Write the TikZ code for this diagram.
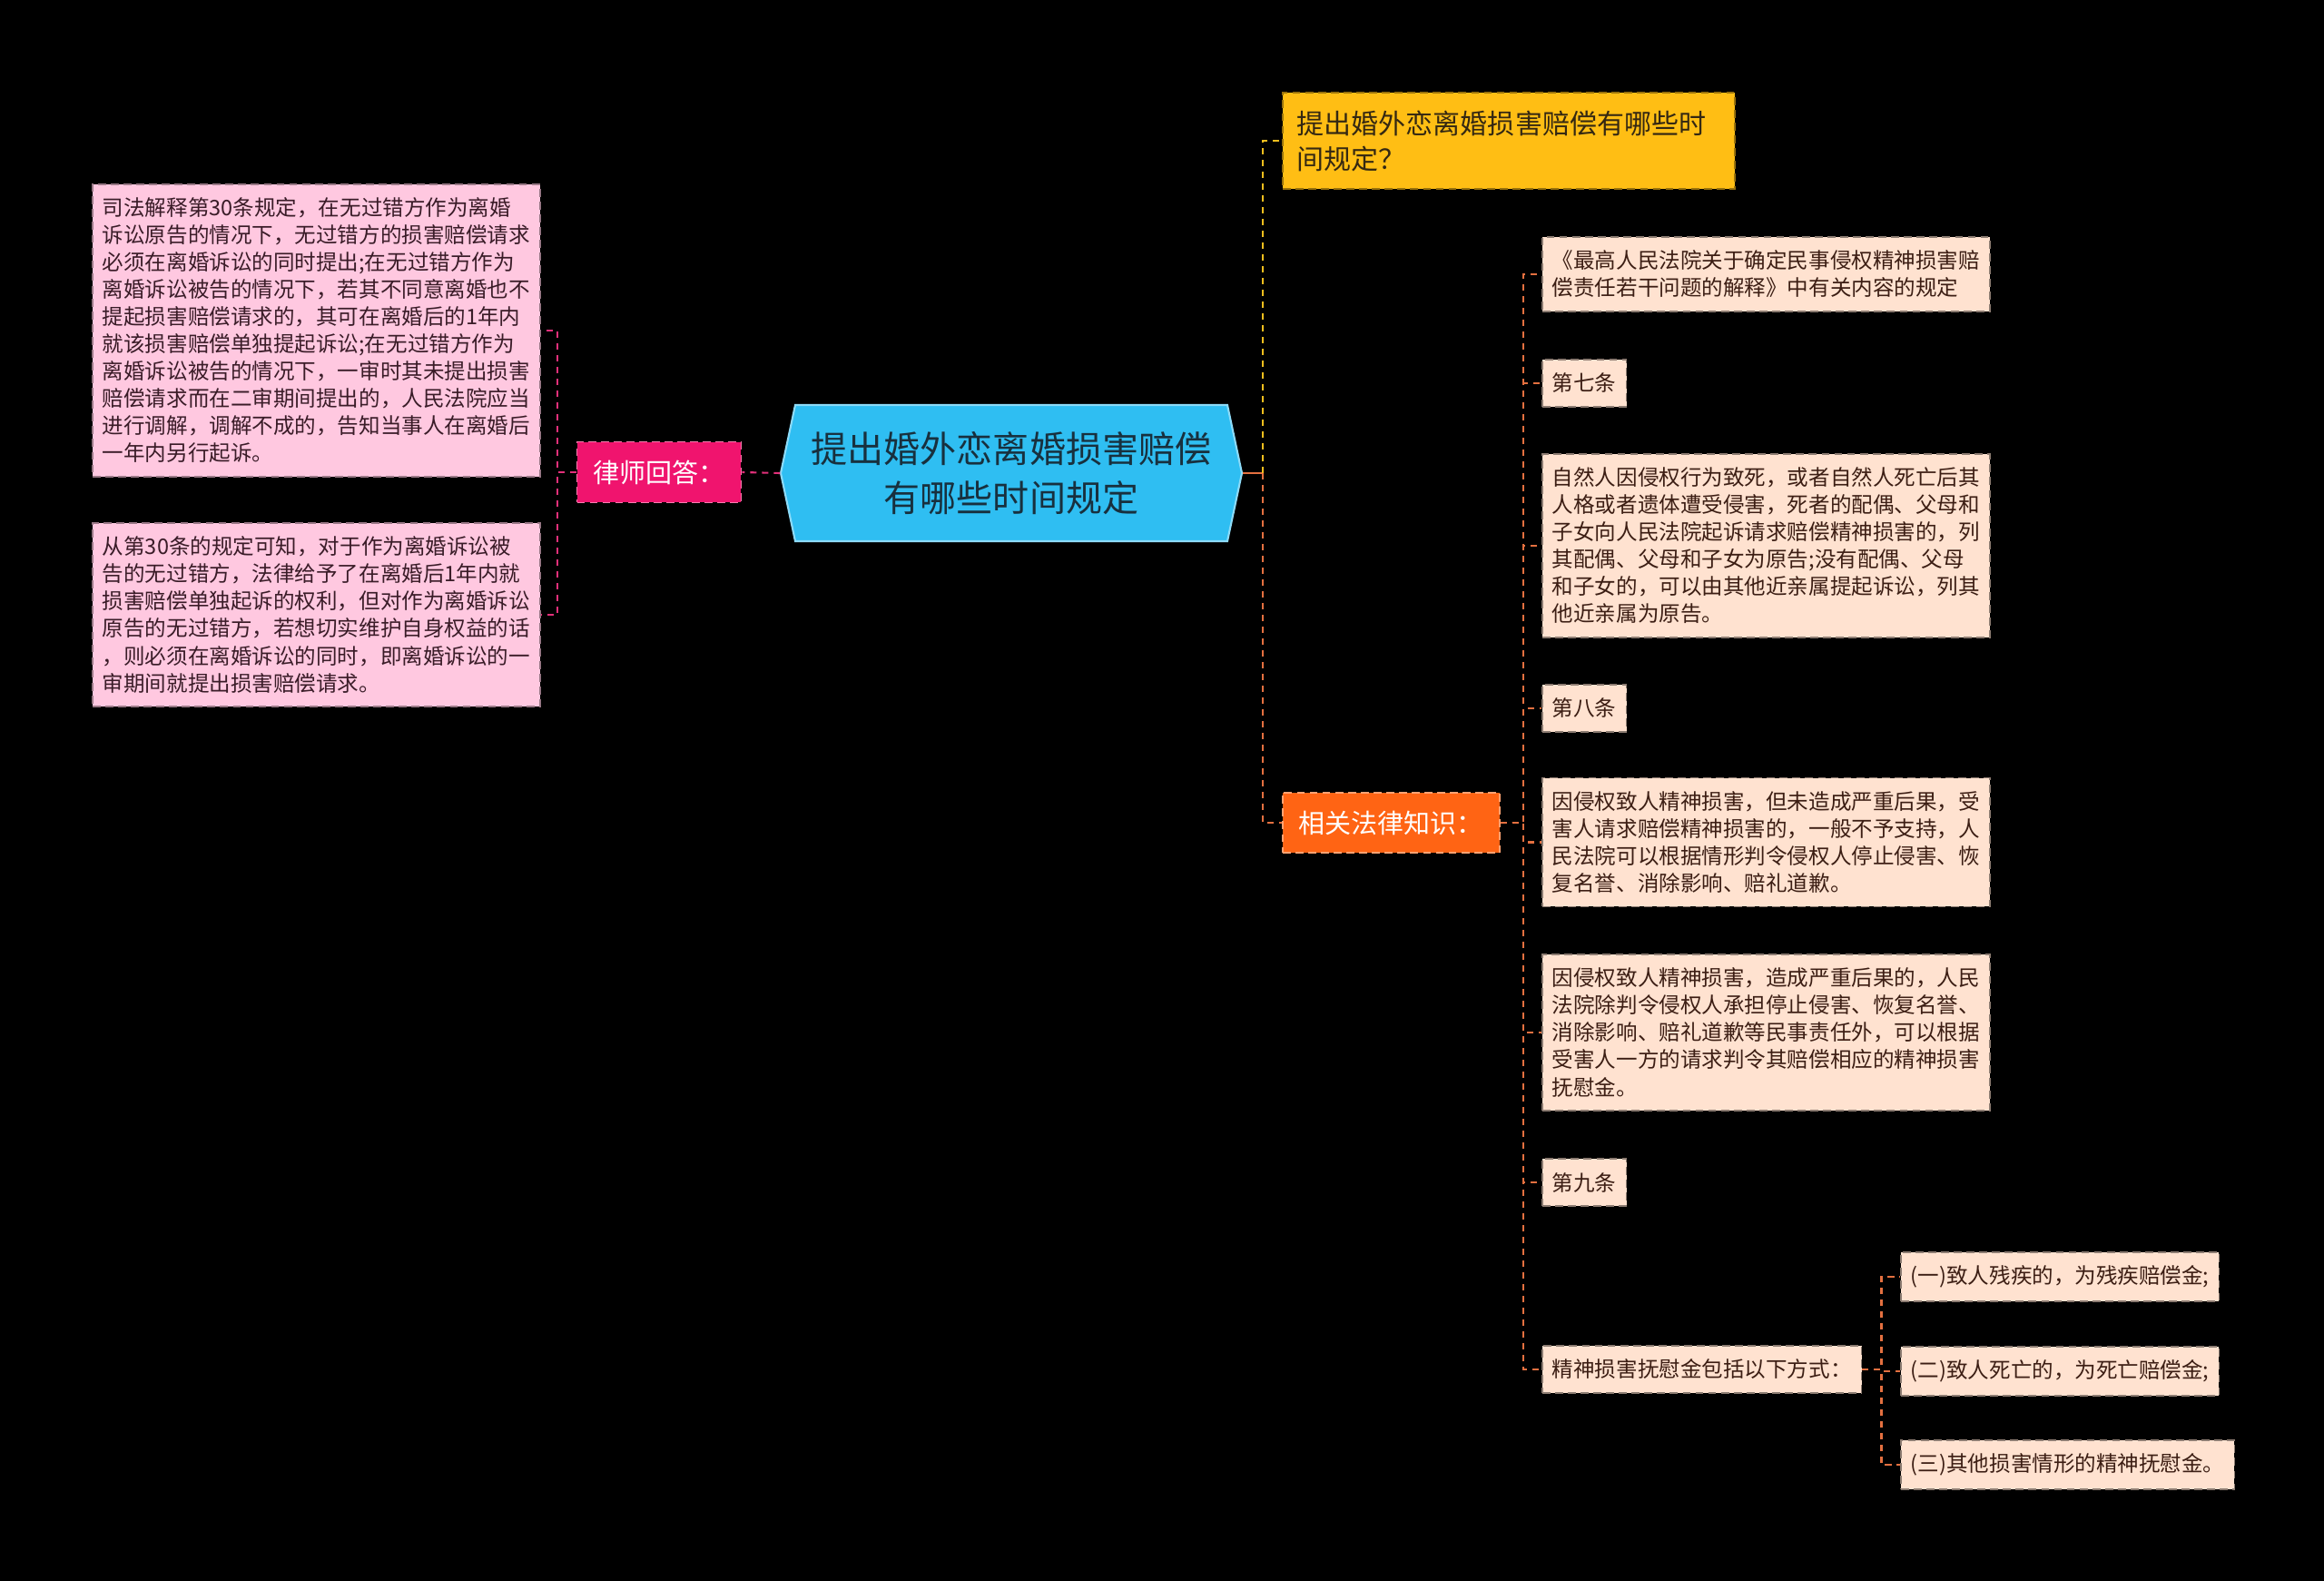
\documentclass[tikz,border=0pt]{standalone}
\usepackage{fontspec}
\setmainfont{Noto Sans CJK SC}
\usetikzlibrary{positioning, calc}
\definecolor{rootblue}{RGB}{47,190,242}
\definecolor{roottext}{RGB}{24,48,62}
\definecolor{lawpink}{RGB}{240,20,110}
\definecolor{anspink}{RGB}{255,200,224}
\definecolor{anstext}{RGB}{58,28,40}
\definecolor{qyellow}{RGB}{255,190,20}
\definecolor{qtext}{RGB}{52,40,18}
\definecolor{knoworange}{RGB}{255,100,20}
\definecolor{peach}{RGB}{255,226,208}
\definecolor{peachtext}{RGB}{60,30,20}
\definecolor{pinkline}{RGB}{226,48,122}
\definecolor{yelline}{RGB}{240,190,30}
\definecolor{oraline}{RGB}{228,112,64}

\begin{document}
\begin{tikzpicture}[
  nd/.style={rectangle, line width=0.5pt, dash pattern=on 2.5pt off 1.5pt,
    inner xsep=0.11cm, inner ysep=0.15cm, align=left},
  ansnd/.style={nd, fill=anspink, draw=anspink!60!black, text=anstext,
    minimum width=4.9cm, font=\fontsize{6.7pt}{8.54pt}\selectfont},
  lawnd/.style={nd, fill=peach, draw=peach!55!black, text=peachtext,
    font=\fontsize{6.7pt}{8.54pt}\selectfont},
  widend/.style={lawnd, minimum width=4.9cm},
  catnd/.style={nd, inner xsep=0.18cm, inner ysep=0.2cm, text=white,
    font=\fontsize{8.25pt}{10pt}\selectfont},
  qnd/.style={nd, fill=qyellow, draw=qyellow!60!black, text=qtext,
    inner xsep=0.16cm, inner ysep=0.195cm, text width=4.66cm,
    font=\fontsize{8.54pt}{11.1pt}\selectfont},
  rootnd/.style={rectangle, inner sep=0pt, minimum width=4.76cm, minimum height=1.5cm,
    align=center, text=roottext, font=\fontsize{11.4pt}{15.4pt}\selectfont},
  conn/.style={line width=0.6pt, dash pattern=on 2pt off 1.7pt},
]
  \useasboundingbox[fill=black] (0,0) rectangle (25.6,-17.41);

  % central topic, pointed at both ends
  \coordinate (rootc) at (11.14,-5.21);
  \filldraw[rootblue, draw=rootblue!55!white, line width=0.6pt]
    ($(rootc)+(-2.54,0)$) -- ++(0.16,0.75) -- ++(4.76,0) -- ++(0.16,-0.75)
    -- ++(-0.16,-0.75) -- ++(-4.76,0) -- cycle;
  \node[rootnd] (root) at (rootc) {提出婚外恋离婚损害赔偿\\有哪些时间规定};
  \coordinate (rootL) at ($(root.west)+(-0.16,0)$);
  \coordinate (rootR) at ($(root.east)+(0.16,0)$);
  \coordinate (fork) at ($(rootR)+(0.22,0)$);

  % left branch
  \node[catnd, fill=lawpink, draw=lawpink!55!white] (law) at (7.26,-5.20) {律师回答：};
  \node[ansnd, anchor=west] (ans1) at (1.01,-3.64) {司法解释第30条规定，在无过错方作为离婚\\诉讼原告的情况下，无过错方的损害赔偿请求\\必须在离婚诉讼的同时提出;在无过错方作为\\离婚诉讼被告的情况下，若其不同意离婚也不\\提起损害赔偿请求的，其可在离婚后的1年内\\就该损害赔偿单独提起诉讼;在无过错方作为\\离婚诉讼被告的情况下，一审时其未提出损害\\赔偿请求而在二审期间提出的，人民法院应当\\进行调解，调解不成的，告知当事人在离婚后\\一年内另行起诉。};
  \node[ansnd, anchor=west] (ans2) at (1.01,-6.77) {从第30条的规定可知，对于作为离婚诉讼被\\告的无过错方，法律给予了在离婚后1年内就\\损害赔偿单独起诉的权利，但对作为离婚诉讼\\原告的无过错方，若想切实维护自身权益的话\\，则必须在离婚诉讼的同时，即离婚诉讼的一\\审期间就提出损害赔偿请求。};

  \draw[conn, pinkline] (rootL) -- (law.east);
  \foreach \a in {ans1,ans2}
    \draw[conn, pinkline] (law.west) -- ++(-0.21,0) |- (\a.east);

  % right branch
  \node[qnd, anchor=west] (q) at (14.12,-1.55) {提出婚外恋离婚损害赔偿有哪些时\\间规定？};
  \node[catnd, fill=knoworange, draw=knoworange!60!white, anchor=west] (know) at (14.12,-9.06) {相关法律知识：};

  \draw[line width=0.6pt, oraline] (rootR) -- (fork);
  \draw[conn, yelline] (fork) |- (q.west);
  \draw[conn, oraline] (fork) |- (know.west);

  \node[widend, anchor=west] (k1) at (16.98,-3.02) {《最高人民法院关于确定民事侵权精神损害赔\\偿责任若干问题的解释》中有关内容的规定};
  \node[lawnd, anchor=west] (k2) at (16.98,-4.22) {第七条};
  \node[widend, anchor=west] (k3) at (16.98,-6.01) {自然人因侵权行为致死，或者自然人死亡后其\\人格或者遗体遭受侵害，死者的配偶、父母和\\子女向人民法院起诉请求赔偿精神损害的，列\\其配偶、父母和子女为原告;没有配偶、父母\\和子女的，可以由其他近亲属提起诉讼，列其\\他近亲属为原告。};
  \node[lawnd, anchor=west] (k4) at (16.98,-7.80) {第八条};
  \node[widend, anchor=west] (k5) at (16.98,-9.275) {因侵权致人精神损害，但未造成严重后果，受\\害人请求赔偿精神损害的，一般不予支持，人\\民法院可以根据情形判令侵权人停止侵害、恢\\复名誉、消除影响、赔礼道歉。};
  \node[widend, anchor=west] (k6) at (16.98,-11.37) {因侵权致人精神损害，造成严重后果的，人民\\法院除判令侵权人承担停止侵害、恢复名誉、\\消除影响、赔礼道歉等民事责任外，可以根据\\受害人一方的请求判令其赔偿相应的精神损害\\抚慰金。};
  \node[lawnd, anchor=west] (k7) at (16.98,-13.02) {第九条};
  \node[lawnd, anchor=west] (k8) at (16.98,-15.08) {精神损害抚慰金包括以下方式：};

  \node[lawnd, anchor=west] (s1) at (20.93,-14.06) {(一)致人残疾的，为残疾赔偿金;};
  \node[lawnd, anchor=west] (s2) at (20.93,-15.10) {(二)致人死亡的，为死亡赔偿金;};
  \node[lawnd, anchor=west] (s3) at (20.93,-16.13) {(三)其他损害情形的精神抚慰金。};

  \foreach \k in {k1,k2,k3,k4,k5,k6,k7,k8}
    \draw[conn, oraline] (know.east) -- ++(0.25,0) |- (\k.west);
  \foreach \s in {s1,s2,s3}
    \draw[conn, oraline] (k8.east) -- ++(0.21,0) |- (\s.west);
\end{tikzpicture}
\end{document}
